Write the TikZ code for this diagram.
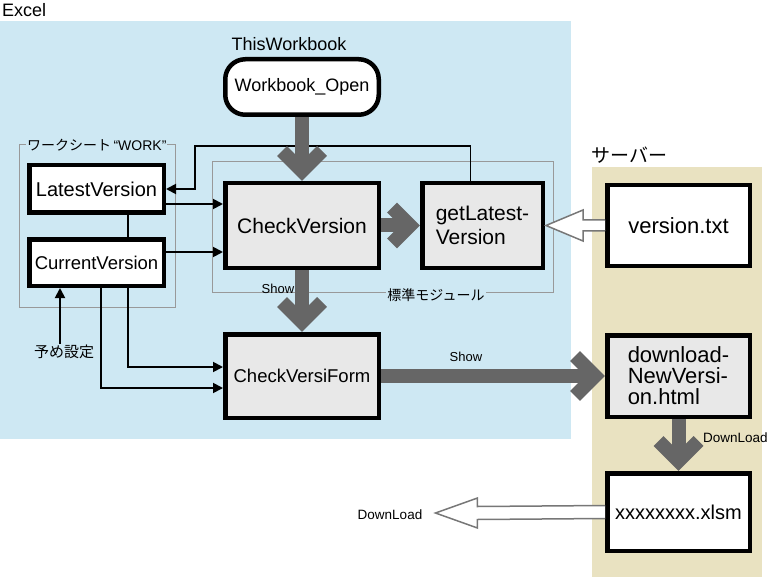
\documentclass[tikz,border=0pt]{standalone}
\usepackage{fontspec}
\setmainfont{Liberation Sans}
\newfontfamily\jp{Noto Sans CJK JP}
\usetikzlibrary{calc,arrows.meta}
\definecolor{bgblue}{HTML}{CEE8F3}
\definecolor{bgtan}{HTML}{E9E2C1}
\definecolor{boxgray}{HTML}{E8E8E8}
\definecolor{agray}{HTML}{666666}
\definecolor{fgray}{HTML}{999999}
\definecolor{hgray}{HTML}{777777}
\newcommand{\setfs}[1]{\fontsize{#1}{#1}\selectfont}
\begin{document}
\begin{tikzpicture}[x=1pt,y=-1pt,
 box/.style={draw=black, line width=4.5pt, inner sep=2pt},
 grbox/.style={box, fill=boxgray},
 whbox/.style={box, fill=white},
 thinarrow/.style={draw=black, line width=1.8pt, -{Triangle[length=10pt,width=10pt]}},
 thinline/.style={draw=black, line width=1.8pt},
 bigline/.style={draw=agray, line width=14pt},
 bigchev/.style={draw=agray, line width=14pt, line join=miter, miter limit=10},
 hollow/.style={draw=hgray, fill=white, line width=1.5pt, line join=miter},
 frame/.style={draw=fgray, line width=1pt},
 lbl/.style={inner sep=1pt}
]
\useasboundingbox (0,0) rectangle (770,577);
% regions
\fill[bgblue] (0,21) rectangle (571,439);
\fill[bgtan] (592,167) rectangle (762,577);
\node[lbl, anchor=west] (excel) at (1,10) {\setfs{18}Excel};
\node[lbl] (twb) at (289,44) {\setfs{18}ThisWorkbook};
\node[lbl, anchor=west] (srv) at (590,155) {\jp\setfs{19}サーバー};
% frames
\draw[frame] (19,145) rectangle (175,307);
\draw[frame] (212,162) rectangle (553,292);
\node[lbl, fill=bgblue, anchor=west] (wslbl) at (26,145) {\jp\setfs{14}ワークシート\,\rmfamily\setfs{14}“WORK”};
\node[lbl, fill=bgblue] (modlbl) at (436,295) {\jp\setfs{14}標準モジュール};
% boxes
\node[whbox, rounded corners=20pt, minimum width=153.5pt, minimum height=55.5pt] (wo) at (302,87) {\setfs{18}Workbook\_Open};
\node[whbox, minimum width=134.5pt, minimum height=47.5pt] (lv) at (96.5,189) {\setfs{20}LatestVersion};
\node[whbox, minimum width=134.5pt, minimum height=46.5pt] (cu) at (96.5,262.5) {\setfs{18.5}CurrentVersion};
\node[grbox, minimum width=153.5pt, minimum height=84.5pt] (cv) at (302,225.5) {\setfs{21}CheckVersion};
\node[grbox, minimum width=120.5pt, minimum height=84.5pt, align=left, font={\fontsize{21}{24}\selectfont}] (gl) at (482.5,225.5) {getLatest-\\Version};
\node[whbox, minimum width=142.5pt, minimum height=80.5pt] (vt) at (678.5,225.5) {\setfs{22}version.txt};
\node[grbox, minimum width=153.5pt, minimum height=83.5pt] (cf) at (302,376) {\setfs{18.5}CheckVersiForm};
\node[grbox, minimum width=142.5pt, minimum height=81.5pt, align=left, font={\fontsize{22}{21}\selectfont}] (dl) at (678.5,376) {download-\\NewVersi-\\on.html};
\node[whbox, minimum width=142.5pt, minimum height=77.5pt] (xl) at (678.5,512) {\setfs{20}xxxxxxxx.xlsm};
% small labels
\node[lbl] (show1) at (278,289) {\setfs{13}Show};
\node[lbl] (show2) at (466,357) {\setfs{13}Show};
\node[lbl, anchor=west] (dl1) at (702,438) {\setfs{13.5}DownLoad};
\node[lbl] (dl2) at (390,515) {\setfs{13.5}DownLoad};
\node[lbl] (yo) at (64,352) {\jp\setfs{15}予め設定};
% thin connectors
\coordinate (bend) at (195,146);
\draw[thinarrow] ($(gl.north)+(-12,0)$) |- (bend) |- (lv.east);
\coordinate (p1) at ($(lv.east)+(0,15)$);
\draw[thinarrow] (p1) -- (p1 -| cv.west);
\coordinate (p2) at ($(cu.east)+(0,-10.5)$);
\draw[thinarrow] (p2) -- (p2 -| cv.west);
\draw[thinline] ($(lv.south)+(31.5,0)$) -- ($(cu.north)+(31.5,0)$);
\draw[thinarrow] ($(cu.south)+(31.5,0)$) |- ($(cf.west)+(0,-9)$);
\draw[thinarrow] ($(cu.south)+(4.5,0)$) |- ($(cf.west)+(0,12)$);
\coordinate (p3) at ($(cu.south)+(-36.5,0)$);
\draw[thinarrow] (yo.north -| p3) -- (p3);
% big grey arrows
\draw[bigline] (wo.south) -- ($(cv.north)+(0,-10)$);
\draw[bigchev] ($(cv.north)+(-20,-30)$) -- ($(cv.north)+(0,-10)$) -- ($(cv.north)+(20,-30)$);
\draw[bigline] (cv.south) -- ($(cf.north)+(0,-10)$);
\draw[bigchev] ($(cf.north)+(-20,-30)$) -- ($(cf.north)+(0,-10)$) -- ($(cf.north)+(20,-30)$);
\draw[bigline] (cv.east) -- ($(gl.west)+(-10,0)$);
\draw[bigchev] ($(gl.west)+(-28,-18)$) -- ($(gl.west)+(-10,0)$) -- ($(gl.west)+(-28,18)$);
\draw[bigline] (cf.east) -- ($(dl.west)+(-10,0)$);
\draw[bigchev] ($(dl.west)+(-30,-20)$) -- ($(dl.west)+(-10,0)$) -- ($(dl.west)+(-30,20)$);
\draw[bigline] (dl.south) -- ($(xl.north)+(0,-10)$);
\draw[bigchev] ($(xl.north)+(-20,-30)$) -- ($(xl.north)+(0,-10)$) -- ($(xl.north)+(20,-30)$);
% hollow arrows
\filldraw[hollow] ($(vt.west)+(0,-5.5)$) -- ($(gl.east)+(38,-5.5)$) -- ($(gl.east)+(38,-15.5)$) -- ($(gl.east)+(1,0)$) -- ($(gl.east)+(38,15.5)$) -- ($(gl.east)+(38,5.5)$) -- ($(vt.west)+(0,5.5)$);
\coordinate (dltip) at ($(dl2.east)+(12,-2)$);
\filldraw[hollow] ($(xl.west)+(0,-6.5)$) -- ($(dltip)+(42,-6.5)$) -- ($(dltip)+(42,-15)$) -- (dltip) -- ($(dltip)+(42,15)$) -- ($(dltip)+(42,6.5)$) -- ($(xl.west)+(0,6.5)$);
\end{tikzpicture}
\end{document}
